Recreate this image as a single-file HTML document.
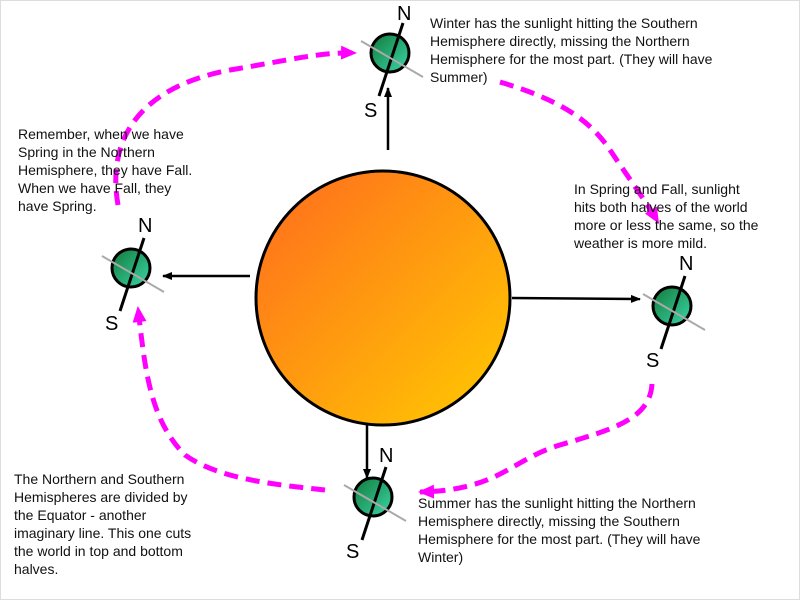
<!DOCTYPE html>
<html><head><style>
body{margin:0;width:800px;height:600px;background:#fff;overflow:hidden;position:relative;font-family:"Liberation Sans",Arial,sans-serif}
.t{position:absolute;font-size:14px;line-height:18px;color:#111}
</style></head><body>
<svg width="800" height="600" style="position:absolute;left:0;top:0">
<defs>
<linearGradient id="sun" x1="0" y1="0" x2="1" y2="1"><stop offset="0" stop-color="#ff6a1e"/><stop offset="1" stop-color="#ffcc00"/></linearGradient>
<linearGradient id="e" x1="0" y1="0" x2="1" y2="1"><stop offset="0" stop-color="#127a3a"/><stop offset="1" stop-color="#3ad6a8"/></linearGradient>
<marker id="ar" markerWidth="10" markerHeight="10" refX="9" refY="5" orient="auto" markerUnits="userSpaceOnUse"><path d="M0,1 L10,5 L0,9 Z" fill="#000"/></marker>
<marker id="pm" markerWidth="18" markerHeight="18" refX="14" refY="9" orient="auto" markerUnits="userSpaceOnUse"><path d="M0,2 L16,9 L0,16 Z" fill="#f0f"/></marker>
<g id="earth">
<circle cx="0" cy="0" r="19" fill="url(#e)" stroke="#000" stroke-width="3"/>
<line x1="13" y1="-30" x2="-11" y2="43" stroke="#000" stroke-width="3"/>
<line x1="-29" y1="-12" x2="33" y2="24" stroke="#aaa" stroke-width="2"/>
</g>
</defs>
<rect x="0.5" y="0.5" width="799" height="599" fill="none" stroke="#ddd"/>
<circle cx="383" cy="298" r="127" fill="url(#sun)" stroke="#000" stroke-width="3"/>
<g stroke="#000" stroke-width="2.5" marker-end="url(#ar)">
<line x1="388" y1="150" x2="388" y2="88"/>
<line x1="250" y1="276" x2="163" y2="276"/>
<line x1="512" y1="298" x2="640" y2="299"/>
<line x1="367" y1="425" x2="367" y2="478"/>
</g>
<use href="#earth" x="390" y="53"/>
<use href="#earth" x="131" y="268"/>
<use href="#earth" x="672" y="306"/>
<use href="#earth" x="373" y="497"/>
<g fill="none" stroke="#f0f" stroke-width="5" stroke-dasharray="14,8" marker-end="url(#pm)">
<path d="M118,205 C105,130 150,85 230,70 C290,60 320,52 355,53"/>
<path d="M500,82 C560,100 590,120 610,150 C630,180 645,200 658,222"/>
<path d="M652,384 C650,420 610,430 560,445 C510,460 500,490 420,492"/>
<path d="M325,490 C280,485 220,480 185,455 C150,420 145,370 138,308"/>
</g>
<g font-family="Liberation Sans,Arial,sans-serif" font-size="20" fill="#000">
<text x="397" y="20">N</text><text x="364" y="117">S</text>
<text x="138" y="232">N</text><text x="105" y="330">S</text>
<text x="679" y="270">N</text><text x="646" y="367">S</text>
<text x="379" y="462">N</text><text x="346" y="558">S</text>
</g>
</svg>
<div class="t" style="left:430px;top:14px">Winter has the sunlight hitting the Southern<br>Hemisphere directly, missing the Northern<br>Hemisphere for the most part. (They will have<br>Summer)</div>
<div class="t" style="left:18px;top:125px">Remember, when we have<br>Spring in the Northern<br>Hemisphere, they have Fall.<br>When we have Fall, they<br>have Spring.</div>
<div class="t" style="left:574px;top:180px">In Spring and Fall, sunlight<br>hits both halves of the world<br>more or less the same, so the<br>weather is more mild.</div>
<div class="t" style="left:14px;top:470px">The Northern and Southern<br>Hemispheres are divided by<br>the Equator - another<br>imaginary line. This one cuts<br>the world in top and bottom<br>halves.</div>
<div class="t" style="left:418px;top:494px">Summer has the sunlight hitting the Northern<br>Hemisphere directly, missing the Southern<br>Hemisphere for the most part. (They will have<br>Winter)</div>
</body></html>
